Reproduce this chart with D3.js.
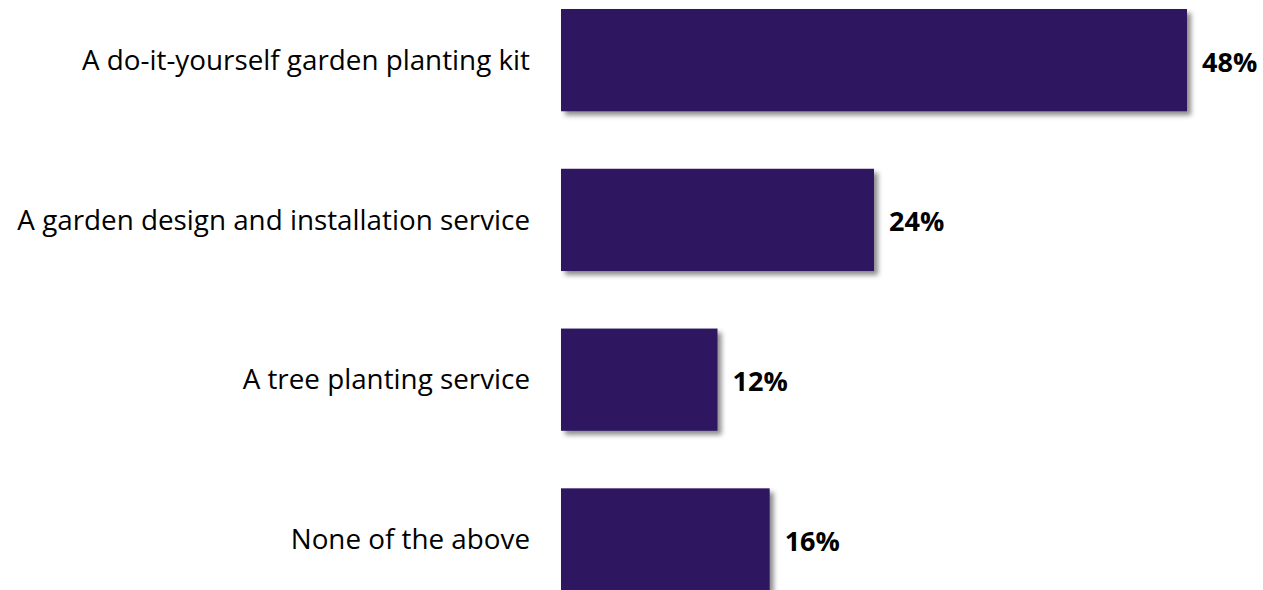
<!DOCTYPE html>
<html>
<head>
<meta charset="utf-8">
<script src="https://cdn.jsdelivr.net/npm/d3@7"></script>
<style>
  html, body { margin: 0; padding: 0; background: #ffffff; }
  svg { display: block; }
</style>
</head>
<body>
<svg id="chart" width="1263" height="590"></svg>
<script>
// Survey answers and their shares (%)
const categories = [
  "A do-it-yourself garden planting kit",
  "A garden design and installation service",
  "A tree planting service",
  "None of the above"
];
const values = [48, 24, 12, 16];
const valueLabels = ["48%", "24%", "12%", "16%"];

const width = 1263, height = 590;
const svg = d3.select("#chart");

const defs = svg.append("defs");
const shadow = defs.append("filter")
  .attr("id", "barShadow")
  .attr("x", "-10%").attr("y", "-10%")
  .attr("width", "130%").attr("height", "140%");
shadow.append("feDropShadow")
  .attr("dx", 4).attr("dy", 4)
  .attr("stdDeviation", 2.5)
  .attr("flood-color", "#000")
  .attr("flood-opacity", 0.45);

const x = d3.scaleLinear()
  .domain([0, 48])
  .range([561, 1187]);

const y = d3.scaleBand()
  .domain(categories)
  .range([9, 590.6])
  .paddingInner(0.36)
  .paddingOuter(0);

const data = categories.map((c, i) => ({ c, v: values[i], label: valueLabels[i] }));

// Bars
svg.append("g")
  .selectAll("rect")
  .data(data)
  .join("rect")
  .attr("x", x(0))
  .attr("y", d => y(d.c))
  .attr("width", d => x(d.v) - x(0))
  .attr("height", y.bandwidth())
  .attr("fill", "#2d1660")
  .attr("filter", "url(#barShadow)");

// Category labels
svg.append("g")
  .selectAll("text")
  .data(data)
  .join("text")
  .attr("x", 530)
  .attr("y", d => y(d.c) + y.bandwidth() / 2)
  .attr("dy", "0.35em")
  .attr("text-anchor", "end")
  .attr("font-family", "'Open Sans', sans-serif")
  .attr("font-size", 27.8)
  .attr("fill", "#000")
  .text(d => d.c);

// Value labels
svg.append("g")
  .selectAll("text")
  .data(data)
  .join("text")
  .attr("x", d => x(d.v) + 15)
  .attr("y", d => y(d.c) + y.bandwidth() / 2 + 2)
  .attr("dy", "0.35em")
  .attr("text-anchor", "start")
  .attr("font-family", "'Open Sans', sans-serif")
  .attr("font-weight", "bold")
  .attr("font-size", 27)
  .attr("fill", "#000")
  .text(d => d.label);
</script>
</body>
</html>
